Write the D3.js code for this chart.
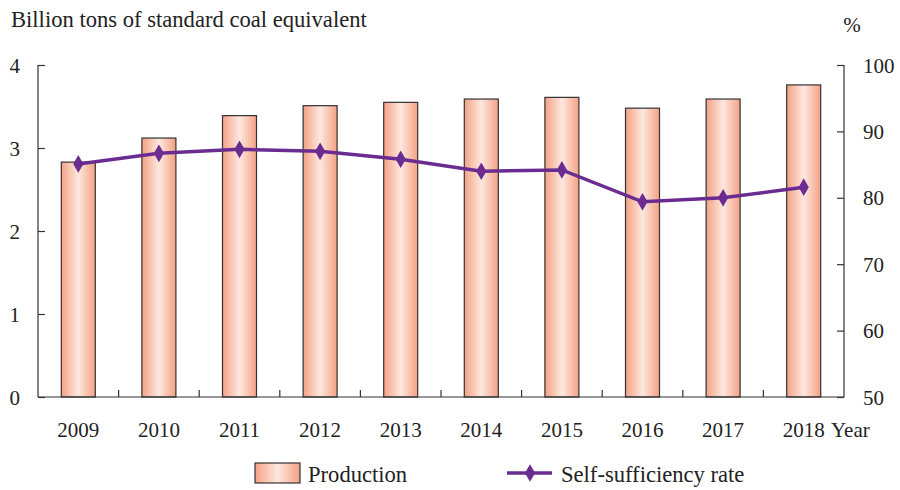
<!DOCTYPE html>
<html><head><meta charset="utf-8">
<script src="https://cdn.jsdelivr.net/npm/d3@7"></script>
<style>body{margin:0;background:#fff}svg{display:block}text{font-family:"Liberation Serif","Times New Roman",serif;fill:#222}</style>
</head><body>
<script>
const years = ["2009","2010","2011","2012","2013","2014","2015","2016","2017","2018"];
const production = [2.83, 3.12, 3.39, 3.51, 3.55, 3.59, 3.61, 3.48, 3.59, 3.76];
const selfSufficiency = [85.1, 86.7, 87.3, 87.0, 85.8, 84.0, 84.2, 79.4, 80.0, 81.6];
const leftTicks = [0, 1, 2, 3, 4];
const rightTicks = [50, 60, 70, 80, 90, 100];

const W = 900, H = 490;
const L = 38, R = 844, T = 65, B = 397;
const svg = d3.select("body").append("svg").attr("width", W).attr("height", H);

const defs = svg.append("defs");
const grad = defs.append("linearGradient").attr("id","barGrad").attr("x1","0").attr("x2","1").attr("y1","0").attr("y2","0");
grad.append("stop").attr("offset","0%").attr("stop-color","#f4a184");
grad.append("stop").attr("offset","50%").attr("stop-color","#fde8df");
grad.append("stop").attr("offset","100%").attr("stop-color","#f4a184");

const xb = d3.scaleBand().domain(years).range([L, R]);
const yL = d3.scaleLinear().domain([0, 4]).range([B, T]);
const yR = d3.scaleLinear().domain([50, 100]).range([B, T]);
const cx = d => xb(d) + xb.bandwidth()/2;

// bars
svg.append("g").selectAll("rect").data(years).join("rect")
  .attr("x", d => cx(d) - 17)
  .attr("width", 34)
  .attr("y", (d,i) => yL(production[i]))
  .attr("height", (d,i) => B - yL(production[i]))
  .attr("fill", "url(#barGrad)").attr("stroke", "#333").attr("stroke-width", 1.2);

const axisColor = "#333";
// left axis
const gL = svg.append("g").attr("transform", `translate(${L},0)`)
  .call(d3.axisLeft(yL).tickValues(leftTicks).tickSize(-7).tickFormat(d3.format("d")));
gL.attr("font-family", null).attr("font-size", null);
gL.select(".domain").attr("stroke", axisColor).attr("stroke-width",1.2).attr("d", `M0,${T}V${B}`);
gL.selectAll(".tick line").attr("stroke", axisColor).attr("stroke-width",1.2);
gL.selectAll(".tick text").attr("font-size", 21).attr("fill","#222").attr("x",-18).attr("dy","0.34em");

// right axis
const gR = svg.append("g").attr("transform", `translate(${R},0)`)
  .call(d3.axisRight(yR).tickValues(rightTicks).tickSize(-7).tickFormat(d3.format("d")));
gR.attr("font-family", null).attr("font-size", null);
gR.select(".domain").attr("stroke", axisColor).attr("stroke-width",1.2).attr("d", `M0,${T}V${B}`);
gR.selectAll(".tick line").attr("stroke", axisColor).attr("stroke-width",1.2);
gR.selectAll(".tick text").attr("font-size", 21).attr("fill","#222").attr("x",19).attr("dy","0.34em");

// bottom axis
svg.append("line").attr("x1", L).attr("x2", R).attr("y1", B).attr("y2", B).attr("stroke", axisColor).attr("stroke-width",1.2);
svg.append("g").selectAll("line").data(years.slice(1)).join("line")
  .attr("x1", d => xb(d)).attr("x2", d => xb(d)).attr("y1", B).attr("y2", B - 7)
  .attr("stroke", axisColor).attr("stroke-width",1.2);
svg.append("g").selectAll("text").data(years).join("text")
  .attr("x", d => cx(d)).attr("y", 437)
  .attr("text-anchor","middle").attr("font-size", 21).text(d => d);
svg.append("text").attr("x", 831).attr("y", 437).attr("font-size", 21).text("Year");

// line
const purple = "#6b2c91";
const line = d3.line().x((d,i) => cx(years[i])).y(d => yR(d));
svg.append("path").datum(selfSufficiency).attr("d", line).attr("fill","none").attr("stroke", purple).attr("stroke-width", 3.5);
const diamond = d3.symbol().type(d3.symbolDiamond).size(90);
svg.append("g").selectAll("path").data(selfSufficiency).join("path")
  .attr("transform", (d,i) => `translate(${cx(years[i])},${yR(d)})`)
  .attr("d", diamond).attr("fill", purple);

// titles
svg.append("text").attr("x", 11).attr("y", 27).attr("font-size", 22.6).text("Billion tons of standard coal equivalent");
svg.append("text").attr("x", 852).attr("y", 32).attr("font-size", 21).attr("text-anchor","middle").text("%");

// legend
svg.append("rect").attr("x", 255).attr("y", 463).attr("width", 45).attr("height", 20)
  .attr("fill","url(#barGrad)").attr("stroke","#333").attr("stroke-width",1.2);
svg.append("text").attr("x", 308).attr("y", 482).attr("font-size", 22.6).text("Production");
svg.append("line").attr("x1", 507).attr("x2", 552).attr("y1", 473).attr("y2", 473).attr("stroke", purple).attr("stroke-width", 3.5);
svg.append("path").attr("transform","translate(530,473)").attr("d", diamond).attr("fill", purple);
svg.append("text").attr("x", 561).attr("y", 482).attr("font-size", 22.6).text("Self-sufficiency rate");
</script>
</body></html>
